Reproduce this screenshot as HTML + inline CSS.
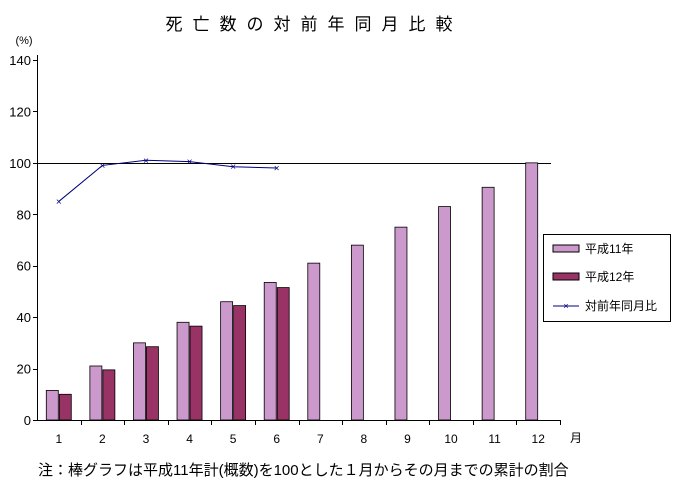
<!DOCTYPE html>
<html><head><meta charset="utf-8"><style>
body{margin:0;background:#fff}
svg text{font-family:"Liberation Sans","Noto Sans CJK JP",sans-serif;fill:#000}
</style></head><body>
<svg width="675" height="490">
<text x="314" y="30" font-size="17" text-anchor="middle" letter-spacing="10">死亡数の対前年同月比較</text>
<text x="24" y="44" font-size="11" text-anchor="middle">(%)</text>
<g id="axes"></g><g id="bars"></g><g id="line"></g>
<text x="570" y="442" font-size="12">月</text>
<text x="38" y="475" font-size="15">注：棒グラフは平成11年計(概数)を100とした１月からその月までの累計の割合</text>
<g>
<rect x="543.5" y="234.5" width="127" height="87" fill="#fff" stroke="#000"/>
<rect x="553" y="245" width="26" height="7" fill="#cc99cc" stroke="#000"/>
<text x="585" y="253" font-size="12">平成11年</text>
<rect x="553" y="273" width="26" height="7" fill="#993366" stroke="#000"/>
<text x="585" y="281" font-size="12">平成12年</text>
<line x1="553" y1="306" x2="579" y2="306" stroke="#000080"/>
<text x="566" y="309" font-size="9" text-anchor="middle" style="fill:#000080">×</text>
<text x="585" y="310" font-size="12">対前年同月比</text>
</g>
</svg>
<script>
const categories=["1","2","3","4","5","6","7","8","9","10","11","12"];
const h11=[11.5,21,30,38,46,53.5,61,68,75,83,90.5,100];
const h12=[10,19.5,28.5,36.5,44.5,51.5];
const ratio=[85,99,101,100.5,98.5,98];
const yTicks=[0,20,40,60,80,100,120,140];
const NS="http://www.w3.org/2000/svg";
const x0=37,x1=560,y0=420,yTop=60,yMax=140;
const step=(x1-x0)/categories.length;
const y=v=>y0-(y0-yTop)*v/yMax;
const cx=i=>x0+step*(i+0.5);
function mk(t,a,p){const e=document.createElementNS(NS,t);for(const k in a)e.setAttribute(k,a[k]);p.appendChild(e);return e;}
const ax=document.getElementById('axes');
let e=mk('line',{x1:x0+.5,y1:yTop-5,x2:x0+.5,y2:y0+.5,stroke:'#000'},ax);


e=mk('line',{x1:x0,y1:y0+.5,x2:x1,y2:y0+.5,stroke:'#000'},ax);


e=mk('line',{x1:x0,y1:Math.round(y(100))+.5,x2:551,y2:Math.round(y(100))+.5,stroke:'#000'},ax);


yTicks.forEach(v=>{
 mk('line',{x1:x0-4,y1:Math.round(y(v))+.5,x2:x0,y2:Math.round(y(v))+.5,stroke:'#000'},ax);
 const t=mk('text',{x:x0-6,y:y(v)+5,'font-size':13,'text-anchor':'end'},ax);t.textContent=v;
 
 
});
categories.forEach((c,i)=>{
 mk('line',{x1:Math.round(x0+step*(i+1))+.5,y1:y0,x2:Math.round(x0+step*(i+1))+.5,y2:y0+5,stroke:'#000'},ax);
 const t=mk('text',{x:cx(i),y:y0+23,'font-size':12,'text-anchor':'middle'},ax);t.textContent=c;
 
 
});
const bg=document.getElementById('bars');const bw=12;
h11.forEach((v,i)=>{const r=mk('rect',{x:cx(i)-bw-0.5,y:y(v),width:bw,height:y0-y(v),fill:'#cc99cc',stroke:'#000','stroke-width':0.8},bg);
 
 });
h12.forEach((v,i)=>{const r=mk('rect',{x:cx(i)+0.5,y:y(v),width:bw,height:y0-y(v),fill:'#993366',stroke:'#000','stroke-width':0.8},bg);
 
 });
const lg=document.getElementById('line');
const pl=mk('polyline',{points:ratio.map((v,i)=>cx(i)+','+y(v)).join(' '),fill:'none',stroke:'#000080','stroke-width':1},lg);


ratio.forEach((v,i)=>{const t=mk('text',{x:cx(i),y:y(v)+3.5,'font-size':10,'text-anchor':'middle',style:'fill:#000080'},lg);t.textContent='×';
 
 });
</script>
</body></html>
